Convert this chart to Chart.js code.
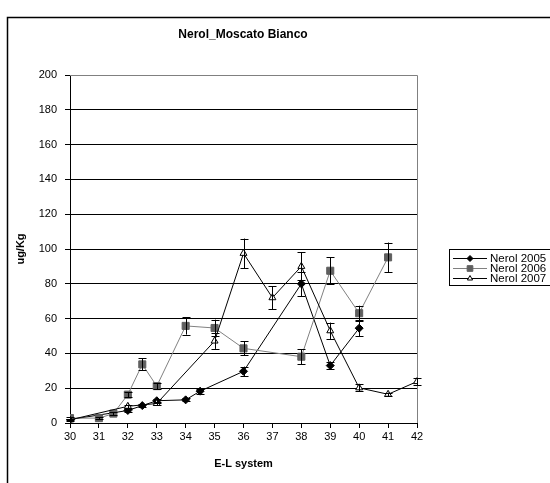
<!DOCTYPE html>
<html>
<head>
<meta charset="utf-8">
<script src="https://cdn.jsdelivr.net/npm/chart.js@4/dist/chart.umd.min.js"></script>
<style>
  html, body { margin: 0; padding: 0; background: #fff; overflow: hidden; }
  #wrap { position: relative; width: 550px; height: 483px; }
  #c { position: absolute; left: 0; top: 0; }
  #title {
    position: absolute; left: 143px; width: 200px; top: 26px; text-align: center;
    font-family: "Liberation Sans", Arial, sans-serif; font-size: 12px; font-weight: bold; color: #000;
    line-height: 16px;
  }
  #legend {
    position: absolute; left: 449px; top: 249px; width: 120px; height: 37px;
    border: 1px solid #000; background: #fff; box-sizing: border-box;
    font-family: "Liberation Sans", Arial, sans-serif; font-size: 11.5px; color: #000;
    padding-top: 3px;
  }
  .row { height: 10px; line-height: 10px; display: flex; align-items: center; white-space: nowrap; }
  .row canvas { margin-left: 3px; margin-right: 3px; }
</style>
</head>
<body>
<div id="wrap">
  <canvas id="c" width="550" height="483"></canvas>
  <div id="title">Nerol_Moscato Bianco</div>
  <div id="legend"></div>
</div>
<script>
// ---- data ----
const seriesNames = ["Nerol 2005", "Nerol 2006", "Nerol 2007"];

const x2005 = [30, 32, 32.5, 33, 34, 34.5, 36, 38, 39, 40];
const y2005 = [2, 7.2, 10, 12.8, 13.3, 18.3, 29.7, 80, 33, 54.5];
const e2005 = [0.5, 1, 1, 1.2, 0.8, 1.5, 2.7, 7, 2, 4.5];

const x2006 = [30, 31, 31.5, 32, 32.5, 33, 34, 35, 36, 38, 39, 40, 41];
const y2006 = [2.8, 2.8, 5.4, 16.3, 33.7, 21.2, 55.8, 54.6, 42.9, 38.1, 87.5, 63.1, 95.2];
const e2006 = [0.5, 0.5, 0.8, 1.5, 3.5, 1.8, 5, 4.8, 4, 4.3, 7.8, 4.3, 8.5];

const x2007 = [30, 32, 33, 35, 36, 37, 38, 39, 40, 41, 42];
const y2007 = [1.8, 9.6, 11.2, 47.1, 97.5, 72, 90, 53, 20.2, 16.5, 23.8];
const e2007 = [0.4, 1, 1, 4.5, 8.5, 6.5, 8, 4.7, 2, 1, 2.2];

const xTicksMin = 30, xTicksMax = 42, yMin = 0, yMax = 200, yStep = 20;

function pts(xs, ys, es) { return xs.map((x, i) => ({ x: x, y: ys[i], e: es[i] })); }

const FONT = '"Liberation Sans", Arial, sans-serif';

const errorBars = {
  id: 'errorBars',
  afterDatasetsDraw(chart) {
    const ctx = chart.ctx, xs = chart.scales.x, ys = chart.scales.y;
    ctx.save();
    ctx.strokeStyle = '#000';
    ctx.lineWidth = 1;
    chart.data.datasets.forEach(ds => {
      ds.data.forEach(p => {
        const px = Math.round(xs.getPixelForValue(p.x)) + 0.5;
        const top = ys.getPixelForValue(p.y + p.e);
        const bot = ys.getPixelForValue(p.y - p.e);
        ctx.beginPath();
        ctx.moveTo(px, top); ctx.lineTo(px, bot);
        ctx.moveTo(px - 4, Math.round(top) + 0.5); ctx.lineTo(px + 4, Math.round(top) + 0.5);
        ctx.moveTo(px - 4, Math.round(bot) + 0.5); ctx.lineTo(px + 4, Math.round(bot) + 0.5);
        ctx.stroke();
      });
    });
    ctx.restore();
  }
};

const frame = {
  id: 'frame',
  beforeDraw(chart) {
    const ctx = chart.ctx;
    ctx.save();
    ctx.strokeStyle = '#000';
    ctx.lineWidth = 1.5;
    ctx.strokeRect(7.5, 17.5, 700, 700);
    ctx.restore();
  },
  beforeDatasetsDraw(chart) {
    const ctx = chart.ctx, a = chart.chartArea;
    ctx.save();
    ctx.strokeStyle = '#808080';
    ctx.lineWidth = 1;
    ctx.beginPath();
    ctx.moveTo(a.left, Math.round(a.top) + 0.5);
    ctx.lineTo(Math.round(a.right) + 0.5, Math.round(a.top) + 0.5);
    ctx.lineTo(Math.round(a.right) + 0.5, a.bottom);
    ctx.stroke();
    ctx.restore();
  }
};

const chart = new Chart(document.getElementById('c'), {
  type: 'line',
  data: {
    datasets: [
      { label: seriesNames[0], data: pts(x2005, y2005, e2005), borderColor: '#000', backgroundColor: '#000',
        borderWidth: 1, pointStyle: 'rectRot', pointRadius: 4, pointBorderWidth: 1, order: 3, tension: 0 },
      { label: seriesNames[1], data: pts(x2006, y2006, e2006), borderColor: '#808080', backgroundColor: '#5f5f5f',
        pointBorderColor: '#5f5f5f', borderWidth: 1, pointStyle: 'rect', pointRadius: 5, pointBorderWidth: 1, order: 2, tension: 0 },
      { label: seriesNames[2], data: pts(x2007, y2007, e2007), borderColor: '#000', backgroundColor: '#fff',
        pointBackgroundColor: '#fff', pointBorderColor: '#000', borderWidth: 1, pointStyle: 'triangle', pointRadius: 4, pointBorderWidth: 1, order: 1, tension: 0 }
    ]
  },
  options: {
    responsive: false,
    animation: false,
    devicePixelRatio: 1,
    layout: { padding: { left: 0, right: 133, top: 75, bottom: 0 } },
    plugins: {
      legend: { display: false },
      tooltip: { enabled: false },
      title: { display: false }
    },
    scales: {
      x: {
        type: 'linear', min: xTicksMin, max: xTicksMax,
        ticks: { stepSize: 1, color: '#000', font: { family: FONT, size: 11 }, padding: 2, maxRotation: 0 },
        grid: { display: true, drawOnChartArea: false, drawTicks: true, tickLength: 5, color: '#000' },
        border: { display: true, color: '#000', width: 1 },
        title: { display: true, text: 'E-L system', color: '#000', font: { family: FONT, size: 11, weight: 'bold' }, padding: { top: 0, bottom: 12 } },
        afterFit(s) { s.height = 60; }
      },
      y: {
        min: yMin, max: yMax,
        ticks: { stepSize: yStep, color: '#000', font: { family: FONT, size: 11 }, padding: 8 },
        grid: { display: true, drawOnChartArea: true, drawTicks: true, tickLength: 5, color: '#000' },
        border: { display: true, color: '#000', width: 1 },
        title: { display: true, text: 'ug/Kg', color: '#000', font: { family: FONT, size: 11, weight: 'bold' }, padding: { top: 14, bottom: 0 } },
        afterFit(s) { s.width = 70; }
      }
    }
  },
  plugins: [frame, errorBars]
});

// HTML legend with drawn samples
const legend = document.getElementById('legend');
chart.data.datasets.forEach((ds) => {
  const row = document.createElement('div');
  row.className = 'row';
  const cv = document.createElement('canvas');
  cv.width = 34; cv.height = 10;
  const g = cv.getContext('2d');
  g.strokeStyle = ds.borderColor; g.lineWidth = 1;
  g.beginPath(); g.moveTo(0, 5.5); g.lineTo(34, 5.5); g.stroke();
  g.fillStyle = ds.pointBackgroundColor || ds.backgroundColor;
  g.strokeStyle = ds.pointBorderColor || ds.borderColor;
  Chart.helpers.drawPoint(g, { pointStyle: ds.pointStyle, radius: ds.pointRadius - 1, borderWidth: 1 }, 17, 5.5);
  row.appendChild(cv);
  const t = document.createElement('span');
  t.textContent = ds.label;
  row.appendChild(t);
  legend.appendChild(row);
});
</script>
</body>
</html>
